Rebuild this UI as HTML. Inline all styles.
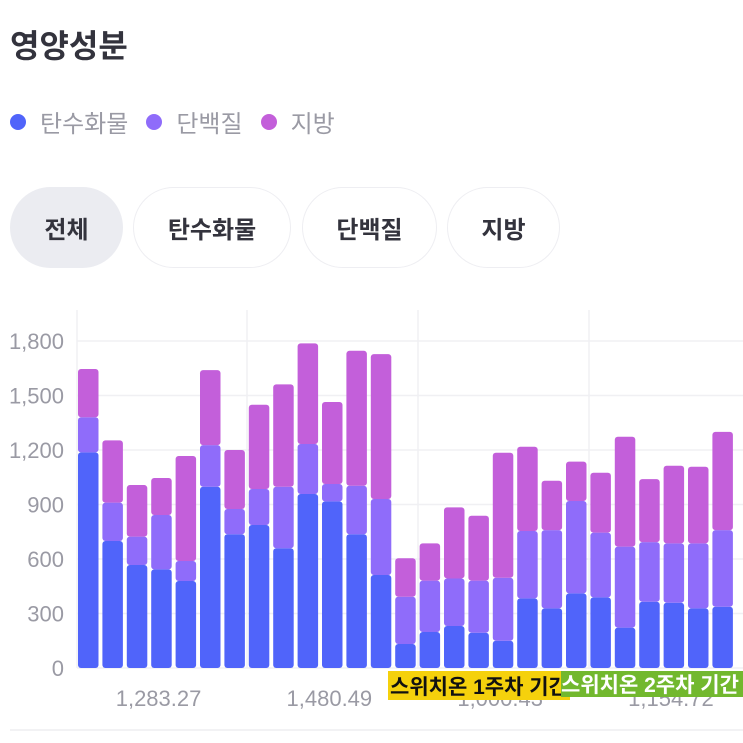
<!DOCTYPE html>
<html><head><meta charset="utf-8">
<style>
body{margin:0;width:743px;height:743px;background:#fff;overflow:hidden;font-family:"Liberation Sans","Noto Sans CJK KR",sans-serif;position:relative}
.t{position:absolute;left:10px;top:21px;font-size:32px;font-weight:bold;color:#33333d}
.lg{position:absolute;top:104px;left:8px;font-size:24px;color:#9a9aa4;display:flex;align-items:center}
.lg span.d{display:inline-block;width:16px;height:16px;border-radius:50%;margin:0 14px 0 2px}
.lg span.x{margin-right:16px}
.pill{position:absolute;top:187px;height:81px;border-radius:41px;border:1.5px solid #eeeef2;box-sizing:border-box;font-size:24px;font-weight:bold;color:#33333d;display:flex;align-items:center;justify-content:center;background:#fff}
svg{position:absolute;left:0;top:0}
</style></head><body>
<div class="t">영양성분</div>
<div class="lg">
<span class="d" style="background:#5064fa"></span><span class="x">탄수화물</span>
<span class="d" style="background:#8f6cfa"></span><span class="x">단백질</span>
<span class="d" style="background:#c35fda"></span><span class="x">지방</span>
</div>
<div class="pill" style="left:10px;width:113px;background:#ebecf1;border-color:#ebecf1">전체</div>
<div class="pill" style="left:133px;width:158px">탄수화물</div>
<div class="pill" style="left:302px;width:135px">단백질</div>
<div class="pill" style="left:447px;width:113px">지방</div>
<svg id="c" width="743" height="743"></svg>
<script>
const carbs=[1187,699,567,543,479,998,736,787,659,958,917,736,512,132,198,231,194,150,383,328,411,389,222,365,359,328,337];
const protein=[193,211,156,299,110,229,139,198,339,275,96,267,418,260,283,262,287,347,371,431,508,356,446,328,327,358,422];
const fat=[266,343,284,204,578,413,325,464,563,554,451,743,798,212,205,391,357,688,464,272,217,330,605,347,427,422,541];
const yTicks=[0,300,600,900,1200,1500,1800];
const xLabels=["1,283.27","1,480.49","1,000.43","1,154.72"];
const xLabelPos=[3.25,10.25,17.25,24.25];
const NS="http://www.w3.org/2000/svg";
const svg=document.getElementById('c');
const y0=668,k=327/1800,x0=78,pitch=24.4,bw=20.5;
const Y=v=>y0-v*k, X=i=>x0+i*pitch;
function mk(t,a){const e=document.createElementNS(NS,t);for(const n in a)e.setAttribute(n,a[n]);svg.appendChild(e);return e;}
yTicks.forEach(v=>{
 const l=mk('line',{x1:77,x2:743,y1:Y(v),y2:Y(v),stroke:'#f0f0f3','stroke-width':1.5});
 
 
 const t=mk('text',{x:64,y:Y(v)+8,'text-anchor':'end','font-size':22,fill:'#9a9aa4'});
 t.textContent=v.toLocaleString('en-US');
 
 
});
[77,247,418,589].forEach(x=>{
 const l=mk('line',{x1:x,x2:x,y1:310,y2:668,stroke:'#f0f0f3','stroke-width':1.5});
 
 
});
function seg(x,a,b,c){
 const h=Y(a)-Y(b);
 return mk('rect',{x:x,y:Y(b),width:bw,height:Math.max(h,0),rx:3,fill:c});
}
carbs.forEach((c,i)=>{
 const p=protein[i],f=fat[i],x=X(i);
 const a=seg(x,0,c,'#5064fa');
 const b=seg(x,c,c+p,'#8f6cfa');
 const d=seg(x,c+p,c+p+f,'#c35fda');
});
xLabels.forEach((s,i)=>{
 const t=mk('text',{x:X(xLabelPos[i])+bw/2-9,y:706,'text-anchor':'middle','font-size':22,fill:'#9a9aa4'});
 t.textContent=s;
 
 
});
const bl=mk('line',{x1:10,x2:743,y1:730,y2:730,stroke:'#ededf0','stroke-width':1.5});


const r1=mk('rect',{x:388,y:671,width:182,height:29,fill:'#f5d10c'});


const t1=mk('text',{x:390,y:694,'font-size':21,fill:'#111','font-weight':'bold'});
t1.textContent='스위치온 1주차 기간';


const r2=mk('rect',{x:561,y:671,width:182,height:26,fill:'#72b82e'});


const t2=mk('text',{x:561,y:692,'font-size':21,fill:'#fff','font-weight':'bold'});
t2.textContent='스위치온 2주차 기간';


</script>
</body></html>
